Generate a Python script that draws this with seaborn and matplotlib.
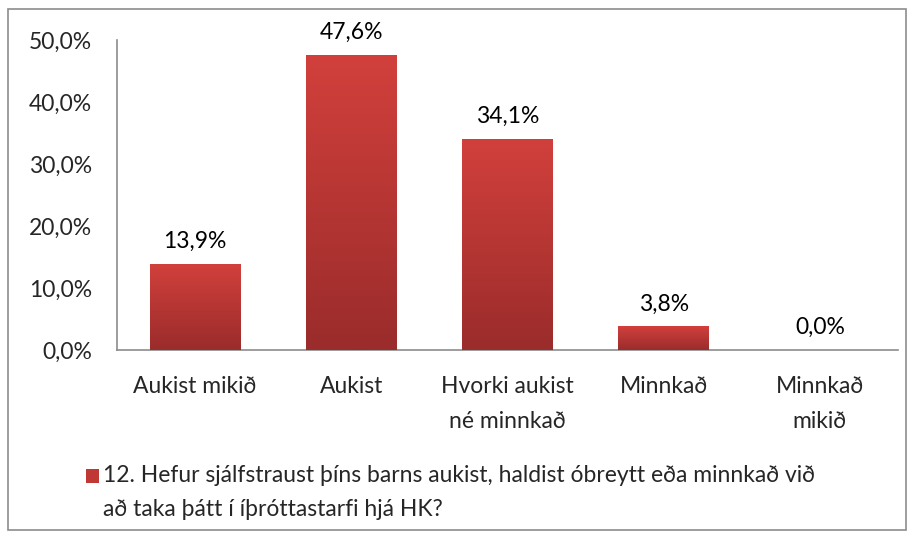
import numpy as np
import pandas as pd
import matplotlib
matplotlib.use('Agg')
import matplotlib.pyplot as plt
import seaborn as sns
from matplotlib.colors import LinearSegmentedColormap
from matplotlib.patches import Rectangle

categories = ['Aukist mikið', 'Aukist', 'Hvorki aukist\nné minnkað', 'Minnkað', 'Minnkað\nmikið']
values = [13.9, 47.6, 34.1, 3.8, 0.0]
yticks = [0, 10, 20, 30, 40, 50]
series_name = ('12. Hefur sjálfstraust þíns barns aukist, haldist óbreytt eða minnkað við\n'
               'að taka þátt í íþróttastarfi hjá HK?')

sns.set_style('white')
plt.rcParams['font.family'] = ['Lato', 'DejaVu Sans']
fs = 16.5

df = pd.DataFrame({'category': categories, 'value': values})

fig = plt.figure(figsize=(9.13, 5.39), dpi=100)
ax = fig.add_axes([0.128, 0.3506, 0.8556, 0.5752])

sns.barplot(data=df, x='category', y='value', color='#B83432', width=0.58, ax=ax,
            saturation=1)

ax.set_ylim(0, 50)
ax.set_xlim(-0.5, len(categories) - 0.5)

# gradient fill, light red at top to dark red at bottom
grad_cmap = LinearSegmentedColormap.from_list('bar', ['#9A2C2B', '#D2403C'])
grad = np.linspace(0, 1, 256).reshape(-1, 1)
for p in ax.patches:
    x0, y0 = p.get_x(), p.get_y()
    w, h = p.get_width(), p.get_height()
    if h <= 0:
        continue
    im = ax.imshow(grad, extent=[x0, x0 + w, y0, y0 + h], origin='lower',
                   aspect='auto', cmap=grad_cmap, zorder=3)
    im.set_clip_path(p)
ax.set_ylim(0, 50)
ax.set_xlim(-0.5, len(categories) - 0.5)

for i, v in enumerate(values):
    ax.annotate(f'{v:.1f}%'.replace('.', ','), (i, v), xytext=(0, 16),
                textcoords='offset points', ha='center', va='center', fontsize=fs,
                color='black')

ax.set_yticks(yticks)
ax.set_yticklabels([f'{t:.1f}%'.replace('.', ',') for t in yticks], fontsize=fs)
ax.set_xticks(range(len(categories)))
ax.set_xticklabels(categories, fontsize=fs, linespacing=1.8)
ax.tick_params(axis='y', length=0, pad=18)
ax.tick_params(axis='x', length=0, pad=19)
ax.set_xlabel('')
ax.set_ylabel('')

for s in ['top', 'right']:
    ax.spines[s].set_visible(False)
for s in ['left', 'bottom']:
    ax.spines[s].set_color('#8C8C8C')
    ax.spines[s].set_linewidth(1.2)

# legend: swatch next to the first line of the series name
fig.patches.append(Rectangle((86 / 913, 1 - 483 / 539), 13 / 913, 14 / 539,
                             transform=fig.transFigure, facecolor='#BF3834',
                             edgecolor='none'))
fig.text(103 / 913, 1 - 465 / 539, series_name, fontsize=fs, ha='left', va='top',
         linespacing=1.75, transform=fig.transFigure)

fig.patches.append(Rectangle((8 / 913, 9 / 539), 898 / 913, 521 / 539,
                             transform=fig.transFigure, fill=False,
                             edgecolor='#8C8C8C', linewidth=1.2))

fig.savefig('out.png', dpi=100)
